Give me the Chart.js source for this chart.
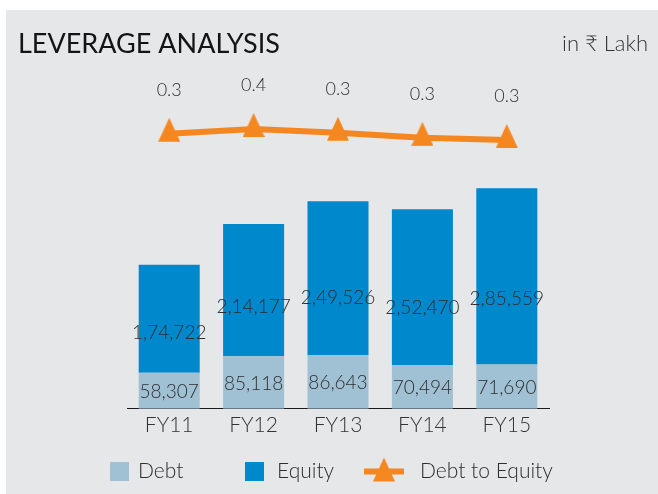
<!DOCTYPE html>
<html>
<head>
<meta charset="utf-8">
<script src="https://cdn.jsdelivr.net/npm/chart.js@4/dist/chart.umd.min.js"></script>
<style>
html,body{margin:0;padding:0;background:#fff;}
#wrap{position:absolute;left:0;top:0;width:658px;height:494px;}
</style>
</head>
<body>
<div id="wrap"><canvas id="c" width="658" height="494"></canvas></div>
<script>
const categories = ['FY11', 'FY12', 'FY13', 'FY14', 'FY15'];
const debt = [58307, 85118, 86643, 70494, 71690];
const equity = [174722, 214177, 249526, 252470, 285559];
const debtToEquity = [0.334, 0.397, 0.347, 0.279, 0.251];
const seriesNames = ['Debt', 'Equity', 'Debt to Equity'];
const titleText = 'LEVERAGE ANALYSIS';
const unitText = 'in \u20B9 Lakh';

const BG = '#e6e7e9';
const DEBT_C = '#a0c0d4';
const EQ_C = '#0088cc';
const LINE_C = '#f58720';
const TXT = '#2e2e2e';
const FONT = 'Lato, "Open Sans", sans-serif';

function triangleCanvas(w, h, total) {
  const c = document.createElement('canvas');
  c.width = w; c.height = total;
  const g = c.getContext('2d');
  g.fillStyle = LINE_C;
  g.beginPath();
  g.moveTo(w / 2, 0);
  g.lineTo(w, h);
  g.lineTo(0, h);
  g.closePath();
  g.fill();
  return c;
}
const tri = triangleCanvas(22, 24, 32);

function fmtIN(n) {
  return n.toLocaleString('en-IN');
}

const decor = {
  id: 'decor',
  beforeDraw(chart) {
    const ctx = chart.ctx;
    ctx.save();
    ctx.fillStyle = '#ffffff';
    ctx.fillRect(0, 0, chart.width, chart.height);
    ctx.fillStyle = BG;
    ctx.fillRect(6, 10, chart.width - 6, chart.height - 10);
    ctx.fillStyle = '#141414';
    ctx.textBaseline = 'alphabetic';
    ctx.textAlign = 'left';
    ctx.font = '27px ' + FONT;
    ctx.fillText(titleText, 18, 53);
    ctx.fillStyle = '#333';
    ctx.font = '300 22px ' + FONT;
    ctx.textAlign = 'right';
    ctx.fillText(unitText, 648, 51);
    ctx.restore();
  },
  afterDatasetsDraw(chart) {
    const ctx = chart.ctx;
    ctx.save();
    ctx.fillStyle = TXT;
    ctx.textAlign = 'center';
    ctx.textBaseline = 'middle';
    ctx.font = '300 19px ' + FONT;
    const mDebt = chart.getDatasetMeta(0);
    const mEq = chart.getDatasetMeta(1);
    mDebt.data.forEach((el, i) => {
      const p = el.getProps(['x', 'y', 'base'], true);
      ctx.fillText(fmtIN(chart.data.datasets[0].data[i]), p.x, (p.y + p.base) / 2 + 1);
    });
    mEq.data.forEach((el, i) => {
      const p = el.getProps(['x', 'y', 'base'], true);
      ctx.fillText(fmtIN(chart.data.datasets[1].data[i]), p.x, p.y + 0.63 * (p.base - p.y));
    });
    const mLine = chart.getDatasetMeta(2);
    ctx.font = '300 18px ' + FONT;
    mLine.data.forEach((el, i) => {
      const p = el.getProps(['x', 'y'], true);
      ctx.fillText(chart.data.datasets[2].data[i].toFixed(1), p.x, p.y - 44);
    });
    ctx.restore();
  },
  afterDraw(chart) {
    const ctx = chart.ctx;
    const ds = chart.data.datasets;
    ctx.save();
    ctx.textBaseline = 'middle';
    ctx.textAlign = 'left';
    ctx.font = '300 21px ' + FONT;
    const ly = 471.5;
    ctx.fillStyle = ds[0].backgroundColor;
    ctx.fillRect(110, 462, 19, 19);
    ctx.fillStyle = TXT;
    ctx.fillText(ds[0].label, 138, ly);
    ctx.fillStyle = ds[1].backgroundColor;
    ctx.fillRect(245, 462, 19, 19);
    ctx.fillStyle = TXT;
    ctx.fillText(ds[1].label, 277, ly);
    ctx.strokeStyle = ds[2].borderColor;
    ctx.lineWidth = 6;
    ctx.beginPath();
    ctx.moveTo(364, ly);
    ctx.lineTo(404, ly);
    ctx.stroke();
    ctx.drawImage(tri, 384 - 11, ly - 14);
    ctx.fillStyle = TXT;
    ctx.fillText(ds[2].label, 420, ly);
    ctx.restore();
  }
};

new Chart(document.getElementById('c'), {
  data: {
    labels: categories,
    datasets: [
      { type: 'bar', label: seriesNames[0], data: debt, backgroundColor: DEBT_C, yAxisID: 'y', order: 2,
        barPercentage: 0.723, categoryPercentage: 1.0, borderWidth: 0 },
      { type: 'bar', label: seriesNames[1], data: equity, backgroundColor: EQ_C, yAxisID: 'y', order: 2,
        barPercentage: 0.723, categoryPercentage: 1.0, borderWidth: 0 },
      { type: 'line', label: seriesNames[2], data: debtToEquity, yAxisID: 'y2', order: 1,
        borderColor: LINE_C, backgroundColor: LINE_C, borderWidth: 6, tension: 0,
        pointStyle: tri, pointRadius: 12, pointHoverRadius: 12, clip: false, stack: 'line' }
    ]
  },
  options: {
    responsive: false,
    animation: false,
    events: [],
    layout: { padding: { left: 127, right: 109, top: 60, bottom: 52 } },
    plugins: { legend: { display: false }, tooltip: { enabled: false }, title: { display: false } },
    scales: {
      x: {
        stacked: true,
        grid: { display: false, drawTicks: false },
        border: { display: true, color: '#1a1a1a', width: 1 },
        ticks: { color: '#333', font: { family: FONT, size: 21, weight: '300' }, padding: 4 }
      },
      y: { stacked: true, display: false, min: 0, max: 564700 },
      y2: { display: false, stacked: false, min: -3.33, max: 1.316 }
    }
  },
  plugins: [decor]
});
</script>
</body>
</html>
